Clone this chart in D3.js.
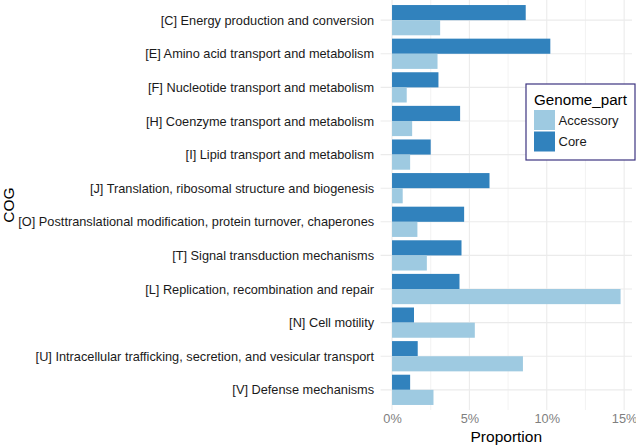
<!DOCTYPE html>
<html><head><meta charset="utf-8">
<script src="https://cdn.jsdelivr.net/npm/d3@7"></script>
<style>body{margin:0;background:#fff}svg{display:block}text{font-family:"Liberation Sans",Arial,sans-serif}</style>
</head><body>
<script>
const categories = [
 "[C] Energy production and conversion",
 "[E] Amino acid transport and metabolism",
 "[F] Nucleotide transport and metabolism",
 "[H] Coenzyme transport and metabolism",
 "[I] Lipid transport and metabolism",
 "[J] Translation, ribosomal structure and biogenesis ",
 "[O] Posttranslational modification, protein turnover, chaperones",
 "[T] Signal transduction mechanisms",
 "[L] Replication, recombination and repair",
 "[N] Cell motility",
 "[U] Intracellular trafficking, secretion, and vesicular transport",
 "[V] Defense mechanisms"
];
const coreValues = [8.64, 10.23, 3.0, 4.40, 2.50, 6.30, 4.66, 4.49, 4.36, 1.42, 1.66, 1.17];
const accessoryValues = [3.11, 2.94, 0.95, 1.30, 1.17, 0.69, 1.64, 2.25, 14.77, 5.35, 8.46, 2.68];
const seriesNames = ["Accessory", "Core"];
const seriesColors = ["#9ecae1", "#3182bd"];
const xTicks = [0, 5, 10, 15];
const xMinor = [2.5, 7.5, 12.5];

(function(){
const W = 636, H = 446;
const svg = d3.select("body").append("svg").attr("width", W).attr("height", H);
const pL = 380.6, pR = 632, pT = 0, pB = 410;
const maxV = d3.max(accessoryValues.concat(coreValues));
const pad = maxV * 0.05;
const x = d3.scaleLinear().domain([-pad, maxV + pad]).range([pL, pR]);
const y = d3.scalePoint().domain(categories).range([pT, pB]).padding(0.6);
const step = y.step();
const barH = step * 0.9 / 2;
const FONT = '"Liberation Sans",Arial,sans-serif';

const g = svg.append("g");
g.selectAll(".minor").data(xMinor).join("line")
 .attr("x1", d => x(d)).attr("x2", d => x(d)).attr("y1", pT).attr("y2", pB)
 .attr("stroke", "#ebebeb").attr("stroke-width", 0.6);
g.selectAll(".major").data(xTicks).join("line")
 .attr("x1", d => x(d)).attr("x2", d => x(d)).attr("y1", pT).attr("y2", pB)
 .attr("stroke", "#ebebeb").attr("stroke-width", 1.1);
g.selectAll(".hgrid").data(categories).join("line")
 .attr("x1", pL).attr("x2", pR).attr("y1", d => y(d)).attr("y2", d => y(d))
 .attr("stroke", "#ebebeb").attr("stroke-width", 1.1);

categories.forEach((c, i) => {
  g.append("rect").attr("x", x(0)).attr("y", y(c) - barH)
   .attr("width", x(coreValues[i]) - x(0)).attr("height", barH).attr("fill", seriesColors[1]);
  g.append("rect").attr("x", x(0)).attr("y", y(c))
   .attr("width", x(accessoryValues[i]) - x(0)).attr("height", barH).attr("fill", seriesColors[0]);
});

const yAxis = d3.axisLeft(y).tickSize(0).tickPadding(6.5);
const ya = svg.append("g").attr("transform", `translate(${pL},0)`).call(yAxis);
ya.select(".domain").remove();
ya.selectAll("text").attr("font-size", 12.75).attr("fill", "#1a1a1a").attr("font-family", FONT);

const xAxis = d3.axisBottom(x).tickValues(xTicks).tickFormat(d => d + "%").tickSize(0).tickPadding(4);
const xa = svg.append("g").attr("transform", `translate(0,${pB})`).call(xAxis);
xa.select(".domain").remove();
xa.selectAll("text").attr("font-size", 12.75).attr("fill", "#7f7f7f").attr("font-family", FONT);

svg.append("text").attr("x", (pL + pR) / 2).attr("y", 442).attr("text-anchor", "middle")
 .attr("font-size", 15.5).attr("fill", "#000").text("Proportion");
svg.append("text").attr("transform", `translate(13.5,${(pT + pB) / 2}) rotate(-90)`)
 .attr("text-anchor", "middle").attr("font-size", 15.5).attr("fill", "#000").text("COG");

const lg = svg.append("g").attr("transform", "translate(526,84)");
lg.append("rect").attr("width", 109).attr("height", 76).attr("fill", "#fff")
 .attr("stroke", "#3d3480").attr("stroke-width", 1.2);
lg.append("text").attr("x", 8).attr("y", 21).attr("font-size", 15.2).attr("fill", "#000").text("Genome_part");
seriesNames.forEach((s, i) => {
  lg.append("rect").attr("x", 8).attr("y", 26 + i * 21.5).attr("width", 21).attr("height", 20).attr("fill", seriesColors[i]);
  lg.append("text").attr("x", 32.5).attr("y", 40.5 + i * 21.5).attr("font-size", 13).attr("fill", "#1a1a1a").text(s);
});
})();
</script>
</body></html>
